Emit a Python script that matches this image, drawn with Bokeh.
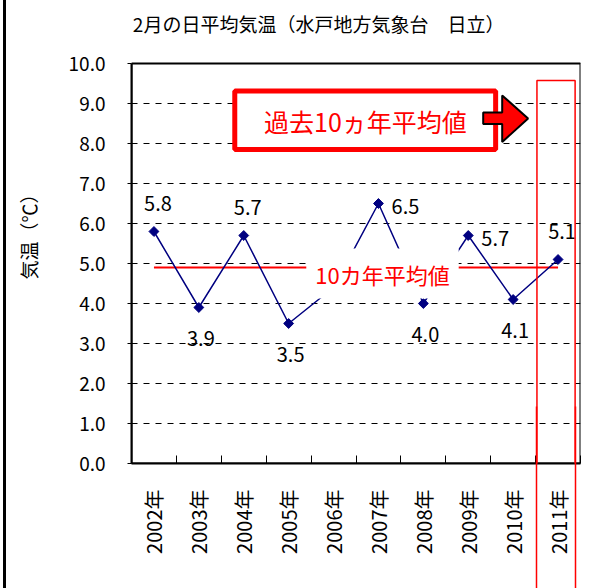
import math
from bokeh.plotting import figure
from bokeh.models import (Range1d, FixedTicker, BoxAnnotation, Label, ColumnDataSource,
                          PrintfTickFormatter, LinearAxis)
from bokeh.embed import file_html
from bokeh.resources import INLINE
from bokeh.core.properties import value

# ---- data ----
years = ["2002年", "2003年", "2004年", "2005年", "2006年",
         "2007年", "2008年", "2009年", "2010年", "2011年"]
temps = [5.8, 3.9, 5.7, 3.5, 4.4, 6.5, 4.0, 5.7, 4.1, 5.1]
label_side = ["above", "below", "above", "below", "above",
              "right", "below", "right", "below", "above"]
avg_10yr = 4.9
y_ticks = [0.0, 1.0, 2.0, 3.0, 4.0, 5.0, 6.0, 7.0, 8.0, 9.0, 10.0]

title_text = "2月の日平均気温（水戸地方気象台　日立）"
y_title = "気温（℃）"
callout_text = "過去10ヵ年平均値"
avg_text = "10カ年平均値"

JP_FONT = "Noto Sans CJK JP"
NAVY = "#000080"
RED = "#ff0000"

Y_MAX = y_ticks[-1]
xs = [i + 0.5 for i in range(len(years))]
offsets = {"above": (4, -28), "below": (2, 31), "right": (27, 3)}
src = ColumnDataSource(dict(
    x=xs, y=temps,
    txt=["%.1f" % t for t in temps],
    dx=[offsets[s][0] for s in label_side],
    dy=[offsets[s][1] for s in label_side],
))

# the plot frame reaches the top of the picture so the title can sit inside it
p = figure(width=607, height=588, x_range=Range1d(0, len(years)),
           y_range=Range1d(0, Y_MAX + 63 / 40.0),
           output_backend="svg", toolbar_location=None, title=None,
           min_border_left=125, min_border_right=33, min_border_top=0, min_border_bottom=125)
p.styles = {"margin-left": "3px", "border-left": "3px solid black"}
p.background_fill_color = "white"
p.border_fill_color = "white"
p.outline_line_color = None

# x axis
p.xaxis.ticker = FixedTicker(ticks=xs, minor_ticks=list(range(len(years) + 1)))
p.xaxis.major_label_overrides = {x: y for x, y in zip(xs, years)}
p.xaxis.major_label_orientation = math.pi / 2
p.xaxis.major_tick_in = 0
p.xaxis.major_tick_out = 0
p.xaxis.minor_tick_in = 8
p.xaxis.minor_tick_out = 0
p.xaxis.minor_tick_line_color = "black"
p.xaxis.axis_line_width = 2
p.xaxis.major_label_standoff = 26
p.xaxis.major_label_text_font = JP_FONT
p.xaxis.major_label_text_font_size = "20px"
p.xaxis.major_label_text_color = "black"

# extra bottom axis only used to carry the red frame of 2011 down through the labels
red_axis = LinearAxis(ticker=FixedTicker(ticks=[9.03, 9.88]),
                      major_label_overrides={9.03: "", 9.88: ""},
                      major_label_standoff=0, major_label_text_font_size="1px",
                      axis_line_color=None, minor_tick_line_color=None,
                      major_tick_line_color=RED, major_tick_line_width=1.5,
                      major_tick_in=150, major_tick_out=32)
p.add_layout(red_axis, "below")

# y axis
p.yaxis.ticker = FixedTicker(ticks=y_ticks)
p.yaxis.bounds = (0, Y_MAX)
p.yaxis.formatter = PrintfTickFormatter(format="%.1f")
p.yaxis.minor_tick_line_color = None
p.yaxis.major_tick_in = 0
p.yaxis.major_tick_out = 4
p.yaxis.axis_line_width = 2
p.yaxis.major_label_standoff = 22
p.yaxis.major_label_text_font = JP_FONT
p.yaxis.major_label_text_font_size = "19px"
p.yaxis.major_label_text_color = "black"
p.yaxis.axis_label = y_title
p.yaxis.axis_label_text_font = JP_FONT
p.yaxis.axis_label_text_font_size = "19px"
p.yaxis.axis_label_text_font_style = "normal"
p.yaxis.axis_label_text_color = "black"
p.yaxis.axis_label_standoff = 24

p.xgrid.visible = False
p.ygrid.grid_line_color = "black"
p.ygrid.grid_line_dash = "6 6"
p.ygrid.grid_line_width = 1

# border of the plot area (0..10 on both axes)
p.add_layout(BoxAnnotation(left=0, right=len(years), bottom=0, top=Y_MAX, level="underlay",
                           fill_alpha=0, line_color="black", line_width=2, line_alpha=1))

# callout box with arrow
p.quad(left=2.30, right=8.11, top=9.31, bottom=7.85, fill_color="white",
       line_color=RED, line_width=5)
p.patch([7.833, 8.256, 8.256, 8.833, 8.256, 8.256, 7.833],
        [8.775, 8.775, 9.2, 8.625, 8.0375, 8.4875, 8.4875],
        fill_color=RED, line_color="black", line_width=2)

# 10-year average line
p.line([xs[0], xs[-1]], [avg_10yr, avg_10yr], line_color=RED, line_width=2)

# series
p.line("x", "y", source=src, line_color=NAVY, line_width=1.5)
p.scatter("x", "y", source=src, marker="square", angle=math.pi / 4, size=7,
          fill_color=NAVY, line_color=NAVY)
p.text("x", "y", text="txt", source=src, x_offset="dx", y_offset="dy",
       text_font=value(JP_FONT), text_font_size="20px", text_color="black",
       text_align="center", text_baseline="middle")

# labels
p.add_layout(Label(x=5.59, y=4.75, text=avg_text, text_font=JP_FONT, text_font_size="22px",
                   text_color=RED, text_align="center", text_baseline="middle",
                   background_fill_color="white", padding=9))
p.add_layout(Label(x=5.21, y=8.56, text=callout_text, text_font=JP_FONT, text_font_size="25px",
                   text_color=RED, text_align="center", text_baseline="middle"))
p.add_layout(Label(x=0.03, y=11.0, text=title_text, text_font=JP_FONT, text_font_size="19px",
                   text_color="black", text_align="left", text_baseline="middle"))

# red frame around 2011 (inside the plot area)
p.add_layout(BoxAnnotation(left=9.03, right=9.88, top=9.575, bottom=-3.5,
                           fill_alpha=0, line_color=RED, line_width=1.5, line_alpha=1))

open("out.html", "w").write(file_html(p, INLINE))
